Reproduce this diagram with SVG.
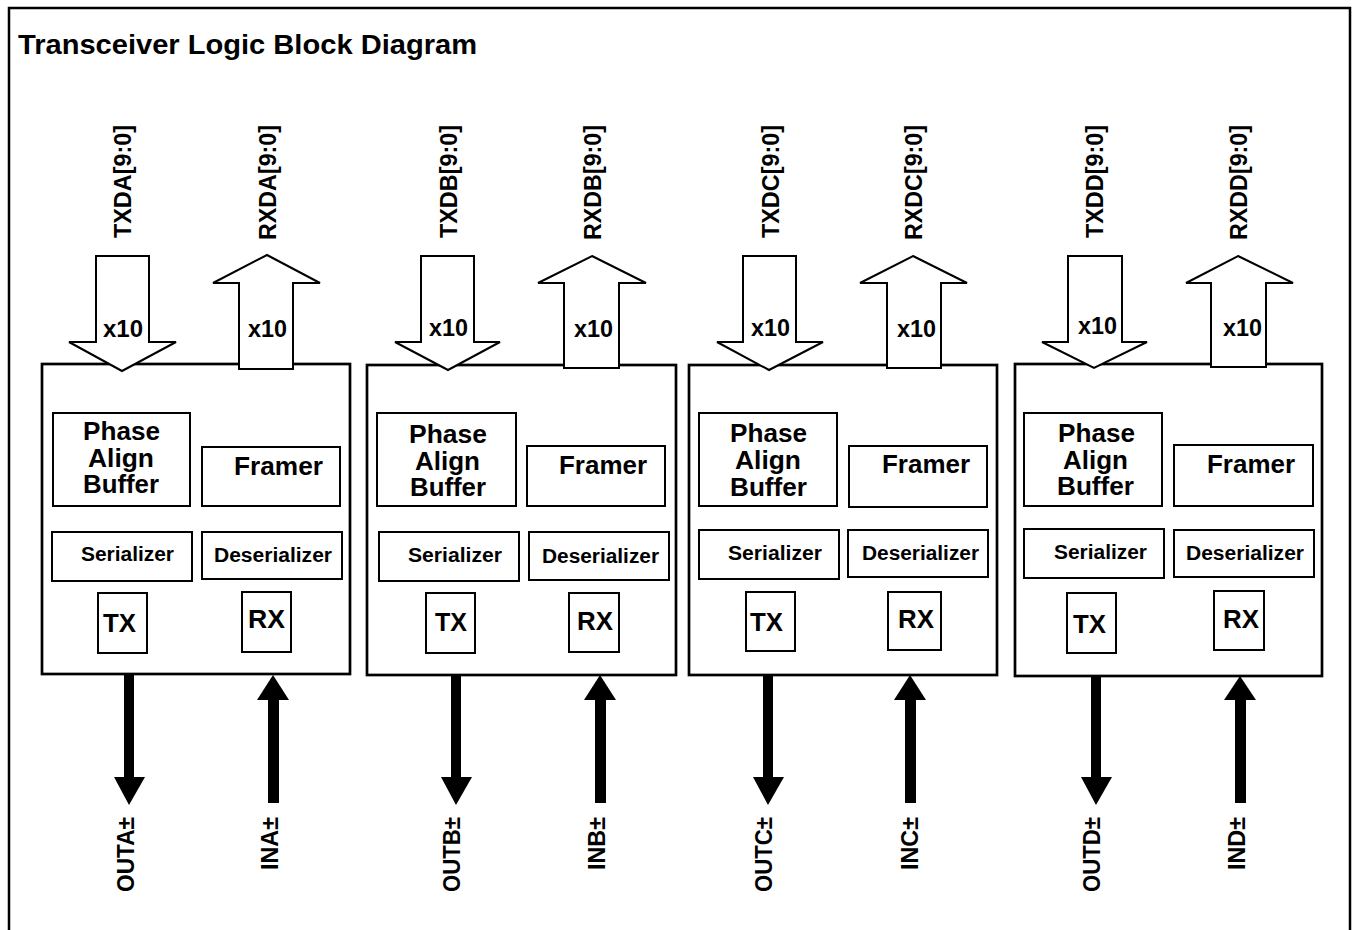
<svg xmlns="http://www.w3.org/2000/svg" width="1353" height="930" viewBox="0 0 1353 930">
<style>
text{font-family:"Liberation Sans",Arial,Helvetica,sans-serif;font-weight:bold;fill:#000}
.frame{fill:none;stroke:#000;stroke-width:2.5}
.blk{fill:#fff;stroke:#000;stroke-width:2.7}
.in{fill:none;stroke:#000;stroke-width:2}
.hol{fill:#fff;stroke:#000;stroke-width:2;stroke-linejoin:miter}
.sol{fill:#000;stroke:none}
.t25{font-size:25px}
.t20{font-size:20px}
.t23{font-size:23px}
.v{font-size:24px}
</style>
<rect x="0" y="0" width="1353" height="930" fill="#fff"/>
<path class="frame" d="M9,931 V8 H1350 V931"/>
<text x="18" y="54" font-size="27" textLength="459" lengthAdjust="spacingAndGlyphs">Transceiver Logic Block Diagram</text>

<g id="blockA">
<rect class="blk" x="42" y="364" width="308" height="310"/>
<rect class="in" x="53" y="413" width="137" height="93"/>
<rect class="in" x="202" y="447" width="138" height="59"/>
<rect class="in" x="52" y="532" width="140" height="49"/>
<rect class="in" x="202" y="532" width="140" height="47"/>
<rect class="in" x="98" y="593" width="49" height="60"/>
<rect class="in" x="242" y="592" width="49" height="60"/>
<text class="t25" x="83" y="440" textLength="77" lengthAdjust="spacingAndGlyphs">Phase</text>
<text class="t25" x="88" y="467" textLength="66" lengthAdjust="spacingAndGlyphs">Align</text>
<text class="t25" x="83" y="493" textLength="76" lengthAdjust="spacingAndGlyphs">Buffer</text>
<text class="t25" x="234" y="475" textLength="89" lengthAdjust="spacingAndGlyphs">Framer</text>
<text class="t20" x="81" y="561" textLength="93" lengthAdjust="spacingAndGlyphs">Serializer</text>
<text class="t20" x="214" y="562" textLength="118" lengthAdjust="spacingAndGlyphs">Deserializer</text>
<text class="t25" x="103" y="632" textLength="33" lengthAdjust="spacingAndGlyphs">TX</text>
<text class="t25" x="248" y="628" textLength="37" lengthAdjust="spacingAndGlyphs">RX</text>
</g>

<g id="blockB">
<rect class="blk" x="367" y="365" width="309" height="310"/>
<rect class="in" x="377" y="413" width="139" height="93"/>
<rect class="in" x="527" y="446" width="138" height="60"/>
<rect class="in" x="379" y="532" width="140" height="49"/>
<rect class="in" x="529" y="532" width="140" height="48"/>
<rect class="in" x="426" y="593" width="49" height="60"/>
<rect class="in" x="569" y="593" width="50" height="59"/>
<text class="t25" x="409" y="443" textLength="78" lengthAdjust="spacingAndGlyphs">Phase</text>
<text class="t25" x="415" y="470" textLength="65" lengthAdjust="spacingAndGlyphs">Align</text>
<text class="t25" x="410" y="496" textLength="76" lengthAdjust="spacingAndGlyphs">Buffer</text>
<text class="t25" x="559" y="474" textLength="88" lengthAdjust="spacingAndGlyphs">Framer</text>
<text class="t20" x="408" y="562" textLength="94" lengthAdjust="spacingAndGlyphs">Serializer</text>
<text class="t20" x="542" y="563" textLength="117" lengthAdjust="spacingAndGlyphs">Deserializer</text>
<text class="t25" x="435" y="631" textLength="32" lengthAdjust="spacingAndGlyphs">TX</text>
<text class="t25" x="577" y="630" textLength="36" lengthAdjust="spacingAndGlyphs">RX</text>
</g>

<g id="blockC">
<rect class="blk" x="689" y="365" width="308" height="310"/>
<rect class="in" x="699" y="413" width="138" height="93"/>
<rect class="in" x="849" y="446" width="138" height="61"/>
<rect class="in" x="699" y="530" width="140" height="49"/>
<rect class="in" x="848" y="530" width="140" height="47"/>
<rect class="in" x="746" y="592" width="49" height="59"/>
<rect class="in" x="888" y="592" width="53" height="58"/>
<text class="t25" x="730" y="442" textLength="77" lengthAdjust="spacingAndGlyphs">Phase</text>
<text class="t25" x="735" y="469" textLength="66" lengthAdjust="spacingAndGlyphs">Align</text>
<text class="t25" x="730" y="496" textLength="77" lengthAdjust="spacingAndGlyphs">Buffer</text>
<text class="t25" x="882" y="473" textLength="88" lengthAdjust="spacingAndGlyphs">Framer</text>
<text class="t20" x="728" y="560" textLength="94" lengthAdjust="spacingAndGlyphs">Serializer</text>
<text class="t20" x="862" y="560" textLength="117" lengthAdjust="spacingAndGlyphs">Deserializer</text>
<text class="t25" x="750" y="631" textLength="33" lengthAdjust="spacingAndGlyphs">TX</text>
<text class="t25" x="898" y="628" textLength="36" lengthAdjust="spacingAndGlyphs">RX</text>
</g>

<g id="blockD">
<rect class="blk" x="1015" y="364" width="307" height="312"/>
<rect class="in" x="1024" y="413" width="138" height="93"/>
<rect class="in" x="1174" y="445" width="139" height="61"/>
<rect class="in" x="1024" y="529" width="140" height="49"/>
<rect class="in" x="1174" y="530" width="140" height="47"/>
<rect class="in" x="1067" y="593" width="49" height="60"/>
<rect class="in" x="1214" y="591" width="50" height="59"/>
<text class="t25" x="1058" y="442" textLength="77" lengthAdjust="spacingAndGlyphs">Phase</text>
<text class="t25" x="1063" y="469" textLength="65" lengthAdjust="spacingAndGlyphs">Align</text>
<text class="t25" x="1057" y="495" textLength="77" lengthAdjust="spacingAndGlyphs">Buffer</text>
<text class="t25" x="1207" y="473" textLength="88" lengthAdjust="spacingAndGlyphs">Framer</text>
<text class="t20" x="1054" y="559" textLength="93" lengthAdjust="spacingAndGlyphs">Serializer</text>
<text class="t20" x="1186" y="560" textLength="118" lengthAdjust="spacingAndGlyphs">Deserializer</text>
<text class="t25" x="1073" y="633" textLength="33" lengthAdjust="spacingAndGlyphs">TX</text>
<text class="t25" x="1223" y="628" textLength="36" lengthAdjust="spacingAndGlyphs">RX</text>
</g>

<g id="connectors">
<polygon class="hol" points="96,256 149,256 149,342 176,342 122,371 69,342 96,342"/>
<polygon class="hol" points="267,255 320,283 293,283 293,369 239,369 239,283 213,283"/>
<polygon class="hol" points="421,256 474,256 474,342 500,342 448,370 395,342 421,342"/>
<polygon class="hol" points="592,256 646,283 619,283 619,368 564,368 564,283 538,283"/>
<polygon class="hol" points="743,256 796,256 796,342 823,342 769,370 717,342 743,342"/>
<polygon class="hol" points="913,256 967,283 941,283 941,368 887,368 887,283 860,283"/>
<polygon class="hol" points="1068,256 1122,256 1122,342 1147,342 1094,368 1042,342 1068,342"/>
<polygon class="hol" points="1238,256 1293,283 1266,283 1266,367 1211,367 1211,283 1186,283"/>
<rect class="sol" x="124" y="674" width="10" height="104"/>
<polygon class="sol" points="114,777 145,777 129,805"/>
<rect class="sol" x="268" y="699" width="11" height="104"/>
<polygon class="sol" points="257,700 289,700 273,675"/>
<rect class="sol" x="451" y="675" width="10" height="103"/>
<polygon class="sol" points="441,777 472,777 456,805"/>
<rect class="sol" x="595" y="699" width="11" height="104"/>
<polygon class="sol" points="584,700 616,700 600,675"/>
<rect class="sol" x="763" y="675" width="10" height="103"/>
<polygon class="sol" points="753,777 784,777 768,805"/>
<rect class="sol" x="905" y="699" width="11" height="104"/>
<polygon class="sol" points="894,700 926,700 910,675"/>
<rect class="sol" x="1091" y="676" width="10" height="102"/>
<polygon class="sol" points="1081,777 1112,777 1096,805"/>
<rect class="sol" x="1235" y="699" width="11" height="104"/>
<polygon class="sol" points="1224,700 1256,700 1240,676"/>
</g>

<g id="labels">
<text class="t23" x="103" y="337" textLength="40" lengthAdjust="spacingAndGlyphs">x10</text>
<text class="t23" x="248" y="337" textLength="39" lengthAdjust="spacingAndGlyphs">x10</text>
<text class="t23" x="429" y="336" textLength="39" lengthAdjust="spacingAndGlyphs">x10</text>
<text class="t23" x="574" y="337" textLength="39" lengthAdjust="spacingAndGlyphs">x10</text>
<text class="t23" x="751" y="336" textLength="39" lengthAdjust="spacingAndGlyphs">x10</text>
<text class="t23" x="897" y="337" textLength="39" lengthAdjust="spacingAndGlyphs">x10</text>
<text class="t23" x="1078" y="334" textLength="39" lengthAdjust="spacingAndGlyphs">x10</text>
<text class="t23" x="1223" y="336" textLength="39" lengthAdjust="spacingAndGlyphs">x10</text>

<text class="v" text-anchor="end" transform="translate(131,125) rotate(-90)" textLength="113" lengthAdjust="spacingAndGlyphs">TXDA[9:0]</text>
<text class="v" text-anchor="end" transform="translate(276,125) rotate(-90)" textLength="115" lengthAdjust="spacingAndGlyphs">RXDA[9:0]</text>
<text class="v" text-anchor="end" transform="translate(457,125) rotate(-90)" textLength="113" lengthAdjust="spacingAndGlyphs">TXDB[9:0]</text>
<text class="v" text-anchor="end" transform="translate(601,125) rotate(-90)" textLength="115" lengthAdjust="spacingAndGlyphs">RXDB[9:0]</text>
<text class="v" text-anchor="end" transform="translate(779,125) rotate(-90)" textLength="113" lengthAdjust="spacingAndGlyphs">TXDC[9:0]</text>
<text class="v" text-anchor="end" transform="translate(922,125) rotate(-90)" textLength="115" lengthAdjust="spacingAndGlyphs">RXDC[9:0]</text>
<text class="v" text-anchor="end" transform="translate(1103,125) rotate(-90)" textLength="113" lengthAdjust="spacingAndGlyphs">TXDD[9:0]</text>
<text class="v" text-anchor="end" transform="translate(1247,125) rotate(-90)" textLength="115" lengthAdjust="spacingAndGlyphs">RXDD[9:0]</text>

<text class="v" text-anchor="end" transform="translate(134,817) rotate(-90)" textLength="75" lengthAdjust="spacingAndGlyphs">OUTA±</text>
<text class="v" text-anchor="end" transform="translate(278,817) rotate(-90)" textLength="53" lengthAdjust="spacingAndGlyphs">INA±</text>
<text class="v" text-anchor="end" transform="translate(460,817) rotate(-90)" textLength="75" lengthAdjust="spacingAndGlyphs">OUTB±</text>
<text class="v" text-anchor="end" transform="translate(605,817) rotate(-90)" textLength="53" lengthAdjust="spacingAndGlyphs">INB±</text>
<text class="v" text-anchor="end" transform="translate(772,817) rotate(-90)" textLength="75" lengthAdjust="spacingAndGlyphs">OUTC±</text>
<text class="v" text-anchor="end" transform="translate(918,817) rotate(-90)" textLength="53" lengthAdjust="spacingAndGlyphs">INC±</text>
<text class="v" text-anchor="end" transform="translate(1100,817) rotate(-90)" textLength="75" lengthAdjust="spacingAndGlyphs">OUTD±</text>
<text class="v" text-anchor="end" transform="translate(1245,817) rotate(-90)" textLength="53" lengthAdjust="spacingAndGlyphs">IND±</text>
</g>
</svg>
